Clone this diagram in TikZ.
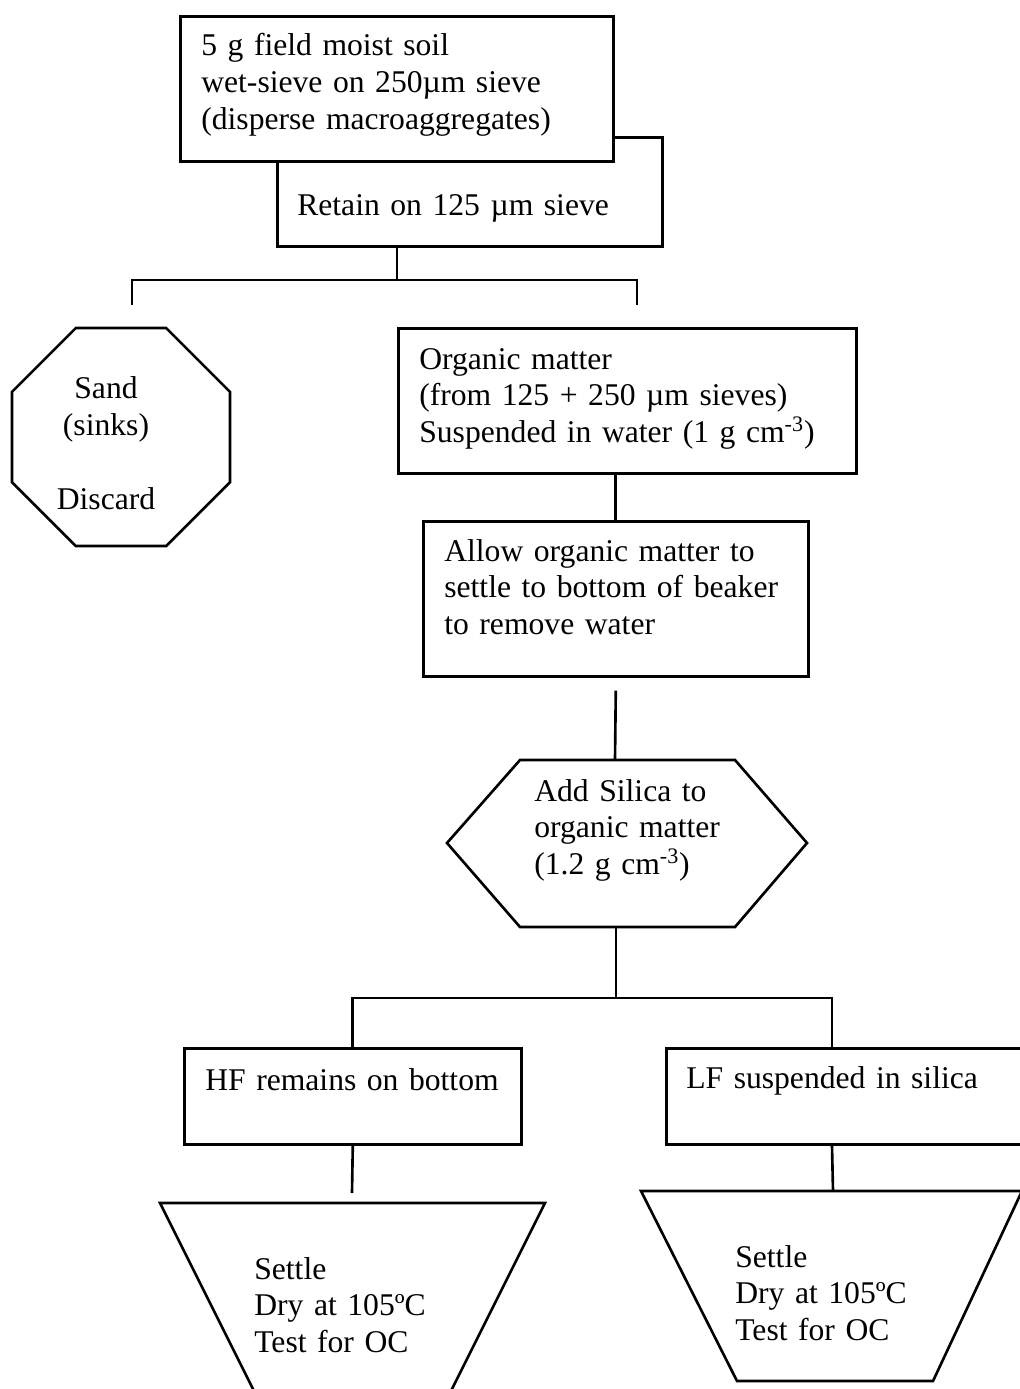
\documentclass[tikz,border=0pt]{standalone}
\usepackage{fontspec}
\setmainfont{Liberation Serif}[WordSpace=0.8]
\usetikzlibrary{shapes.geometric}

\tikzset{
  box/.style={draw, fill=white, anchor=north west, inner sep=0pt},
  octa/.style={draw, regular polygon, regular polygon sides=8, minimum size=4.72cm, inner sep=0pt},
  txt/.style={anchor=base west, align=left, inner sep=0pt, text width=#1},
  txt/.default=9cm
}

\begin{document}
\begin{tikzpicture}[x=0.02cm, y=-0.02cm, line width=1.5pt,
    font=\fontsize{18}{21}\selectfont]
    \useasboundingbox (0,0) rectangle (1020,1389);
    \clip (0,0) rectangle (1020,1389);

    % boxes
    \node[box, minimum width=7.7cm, minimum height=2.18cm] (retain) at (276,136) {};
    \node[box, minimum width=8.66cm, minimum height=2.9cm] (soil) at (179,15) {};
    \node[box, minimum width=9.16cm, minimum height=2.9cm] (organic) at (397,327) {};
    \node[box, minimum width=7.7cm, minimum height=3.1cm] (settle) at (422,520) {};
    \node[box, minimum width=6.74cm, minimum height=1.92cm] (hf) at (183,1047) {};
    \node[box, minimum width=8cm, minimum height=1.92cm] (lf) at (665,1047) {};
    \node[octa] (sand) at (121,437) {};

    % hexagon and trapezia
    \draw (447,843) -- (520,760) -- (735,760) -- (807,843) -- (735,927) -- (520,927) -- cycle;
    \draw (160,1203) -- (545,1203) -- (450,1393) -- (255,1393) -- cycle;
    \draw (641,1191) -- (1022,1191) -- (933,1381) -- (737,1381) -- cycle;
    \coordinate (addTop) at (615,760);
    \coordinate (addBot) at (616,927);

    % texts
    \node[txt] (soilText) at (200,56) {5 g field moist soil\\wet-sieve on 250µm sieve\\(disperse macroaggregates)};
    \node[txt] (retainText) at (296,215) {Retain on 125 µm sieve};
    \node[align=center, inner sep=0pt] (sandText) at (106,443) {Sand\\(sinks)\\[21pt]Discard};
    \node[txt] (organicText) at (418,369) {Organic matter\\(from 125 + 250 µm sieves)\\Suspended in water (1 g cm\textsuperscript{-3})};
    \node[txt] (settleText) at (443,561) {Allow organic matter to\\settle to bottom of beaker\\to remove water};
    \node[txt] (addText) at (533,801) {Add Silica to\\organic matter\\(1.2 g cm\textsuperscript{-3})};
    \node[txt] (hfText) at (204,1090) {HF remains on bottom};
    \node[txt] (lfText) at (685,1088) {LF suspended in silica};
    \node[txt] (dryLText) at (253,1279) {Settle\\Dry at 105ºC\\Test for OC};
    \node[txt] (dryRText) at (734,1267) {Settle\\Dry at 105ºC\\Test for OC};

    % connectors
    \coordinate (split) at (397,280);
    \coordinate (sandEnd) at (132,305);
    \coordinate (omEnd) at (637,305);
    \draw (retain.south west) ++(121,0) -- (split);
    \draw (sandEnd) |- (split) -| (omEnd);
    \draw (settle.north) -- (settle.north |- organic.south);
    \draw (settle.south) ++(0,13) -- (addTop);
    \coordinate (split2) at (616,998);
    \coordinate (lfTop) at (832,1047);
    \coordinate (hfEnd) at (352,1193);
    \coordinate (lfEnd) at (833,1191);
    \draw (addBot) -- (split2);
    \draw (hf.north) |- (split2) -| (lfTop);
    \draw (hf.south) -- (hfEnd);
    \draw (lfTop |- lf.south) -- (lfEnd);
\end{tikzpicture}
\end{document}
